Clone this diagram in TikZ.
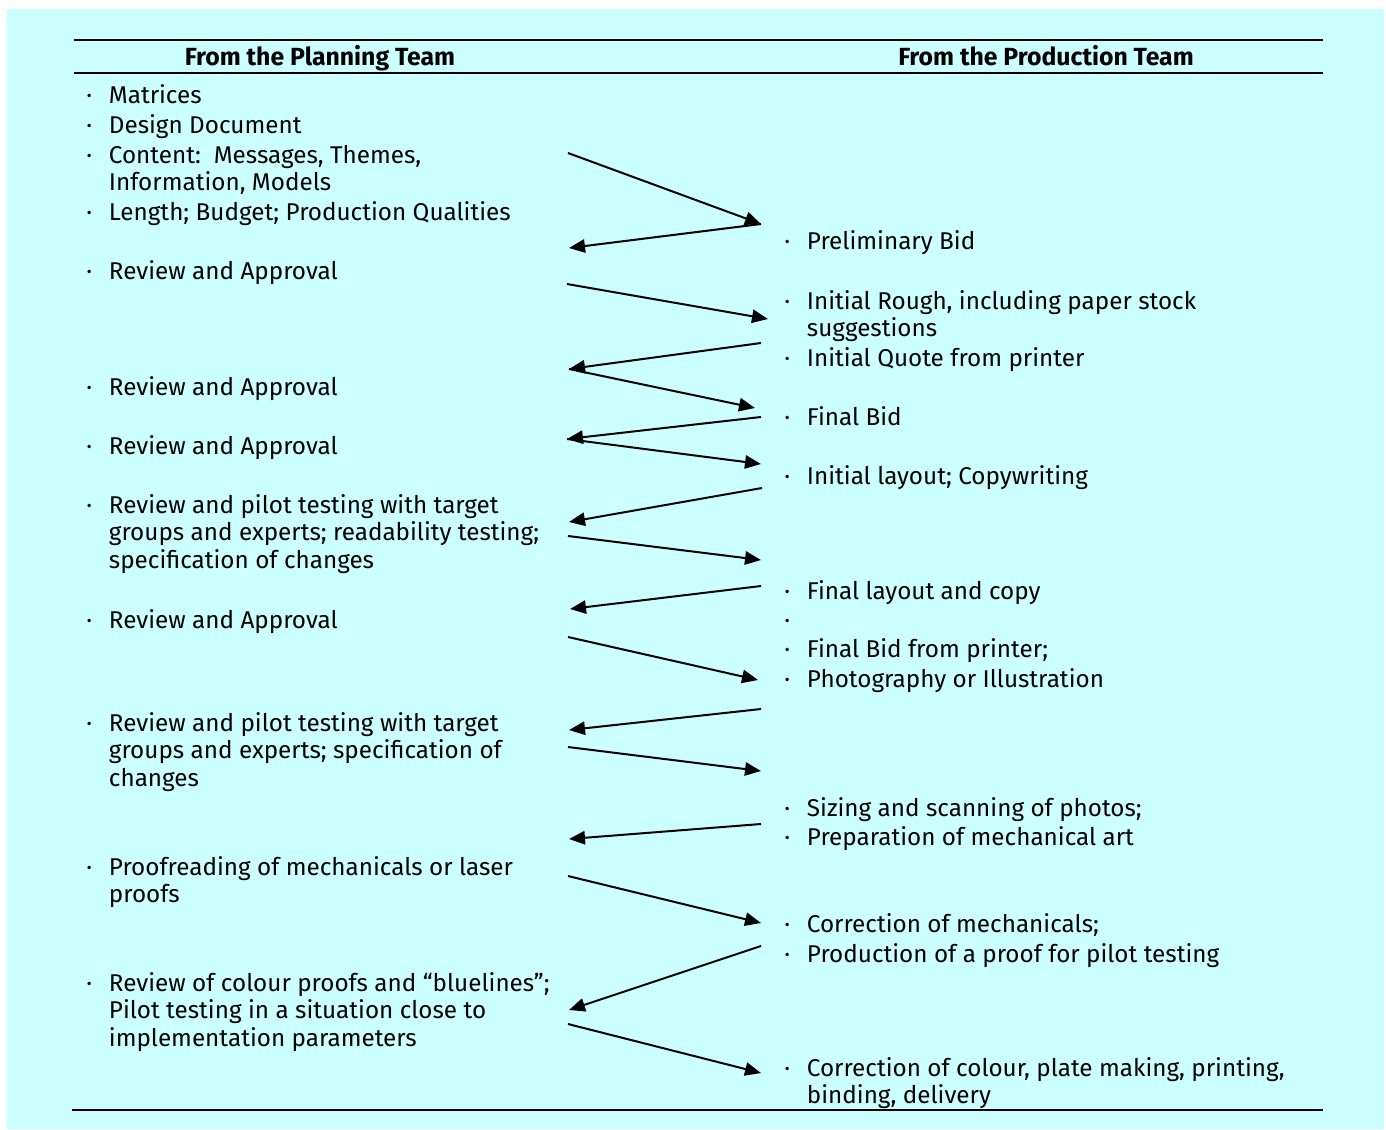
\documentclass[tikz,border=0pt]{standalone}
\usepackage{fontspec}
\setmainfont{Fira Sans}
\usetikzlibrary{arrows.meta}
\definecolor{paneCyan}{HTML}{CCFFFF}
\newcommand{\bulletitem}[1]{\makebox[17pt][l]{\textperiodcentered}\parbox[t]{420pt}{\raggedright #1}}
\tikzset{
  itm/.style={anchor=base west, inner sep=0pt, yshift=-1.2pt, font=\fontsize{18.2}{20.6}\selectfont},
  hdr/.style={anchor=base, inner sep=0pt, yshift=-1.2pt, font=\fontsize{18.6}{20}\selectfont\bfseries},
  rule/.style={line width=2.2pt},
  flow/.style={line width=1.5pt, -{Triangle[length=12pt,width=10pt]}}
}
\begin{document}
\begin{tikzpicture}[x=0.75pt, y=-0.75pt]
\useasboundingbox (0,0) rectangle (1386,1129);
\fill[white] (0,0) rectangle (1386,1129);
\fill[paneCyan] (7,9) rectangle (1384,1129);

% table rules
\draw[rule] (74,40) -- (1323,40);
\draw[rule] (74,73) -- (1323,73);
\draw[rule] (72,1110) -- (1323,1110);

% column headings
\node[hdr] (hplan) at (320,64) {From the Planning Team};
\node[hdr] (hprod) at (1046,64) {From the Production Team};

% planning team column
\node[itm] (p1) at (86,101.5) {\bulletitem{Matrices}};
\node[itm] (p2) at (86,131.5) {\bulletitem{Design Document}};
\node[itm] (p3) at (86,161.5) {\bulletitem{Content:\ \ Messages, Themes,\\Information, Models}};
\node[itm] (p4) at (86,218.5) {\bulletitem{Length; Budget; Production Qualities}};
\node[itm] (p5) at (86,277.5) {\bulletitem{Review and Approval}};
\node[itm] (p6) at (86,393.5) {\bulletitem{Review and Approval}};
\node[itm] (p7) at (86,452.5) {\bulletitem{Review and Approval}};
\node[itm] (p8) at (86,511.5) {\bulletitem{Review and pilot testing with target\\groups and experts; readability testing;\\specification of changes}};
\node[itm] (p9) at (86,626.5) {\bulletitem{Review and Approval}};
\node[itm] (p10) at (86,729.5) {\bulletitem{Review and pilot testing with target\\groups and experts; specification of\\changes}};
\node[itm] (p11) at (86,873.5) {\bulletitem{Proofreading of mechanicals or laser\\proofs}};
\node[itm] (p12) at (86,989.5) {\bulletitem{Review of colour proofs and “bluelines”;\\Pilot testing in a situation close to\\implementation parameters}};

% production team column
\node[itm] (q1) at (784,247.5) {\bulletitem{Preliminary Bid}};
\node[itm] (q2) at (784,307.5) {\bulletitem{Initial Rough, including paper stock\\suggestions}};
\node[itm] (q3) at (784,364.5) {\bulletitem{Initial Quote from printer}};
\node[itm] (q4) at (784,423.5) {\bulletitem{Final Bid}};
\node[itm] (q5) at (784,482.5) {\bulletitem{Initial layout; Copywriting}};
\node[itm] (q6) at (784,597.5) {\bulletitem{Final layout and copy}};
\node[itm] (q7) at (784,626.5) {\bulletitem{}};
\node[itm] (q8) at (784,655.5) {\bulletitem{Final Bid from printer;}};
\node[itm] (q9) at (784,685.5) {\bulletitem{Photography or Illustration}};
\node[itm] (q10) at (784,814.5) {\bulletitem{Sizing and scanning of photos;}};
\node[itm] (q11) at (784,843.5) {\bulletitem{Preparation of mechanical art}};
\node[itm] (q12) at (784,930.5) {\bulletitem{Correction of mechanicals;}};
\node[itm] (q13) at (784,960.5) {\bulletitem{Production of a proof for pilot testing}};
\node[itm] (q14) at (784,1074.5) {\bulletitem{Correction of colour, plate making, printing,\\binding, delivery}};

% arrow end points, planning side (L) and production side (R)
\coordinate (L1) at (568,153);   \coordinate (R1) at (761,224);
\coordinate (L2) at (569,248);
\coordinate (L3) at (567,284);   \coordinate (R3) at (768,319);
\coordinate (R4) at (761,343);   \coordinate (L4) at (569,369);
\coordinate (R5) at (755,408);
\coordinate (R6) at (761,417);   \coordinate (L6) at (567,439);
\coordinate (R7) at (761,464);
\coordinate (R8) at (762,488);   \coordinate (L8) at (569,522);
\coordinate (L9) at (568,536);   \coordinate (R9) at (761,560);
\coordinate (R10) at (761,586);  \coordinate (L10) at (570,609);
\coordinate (L11) at (568,637);  \coordinate (R11) at (758,680);
\coordinate (R12) at (761,709);  \coordinate (L12) at (569,730);
\coordinate (L13) at (568,747);  \coordinate (R13) at (761,771);
\coordinate (R14) at (761,824);  \coordinate (L14) at (569,839);
\coordinate (L15) at (568,876);  \coordinate (R15) at (761,923);
\coordinate (R16) at (761,946);  \coordinate (L16) at (569,1010);
\coordinate (L17) at (568,1024); \coordinate (R17) at (761,1073);

% hand-offs between the two teams
\draw[flow] (L1) -- (R1);
\draw[flow] (R1) -- (L2);
\draw[flow] (L3) -- (R3);
\draw[flow] (R4) -- (L4);
\draw[flow] (L4) -- (R5);
\draw[flow] (R6) -- (L6);
\draw[flow] (L6) -- (R7);
\draw[flow] (R8) -- (L8);
\draw[flow] (L9) -- (R9);
\draw[flow] (R10) -- (L10);
\draw[flow] (L11) -- (R11);
\draw[flow] (R12) -- (L12);
\draw[flow] (L13) -- (R13);
\draw[flow] (R14) -- (L14);
\draw[flow] (L15) -- (R15);
\draw[flow] (R16) -- (L16);
\draw[flow] (L17) -- (R17);
\end{tikzpicture}
\end{document}
